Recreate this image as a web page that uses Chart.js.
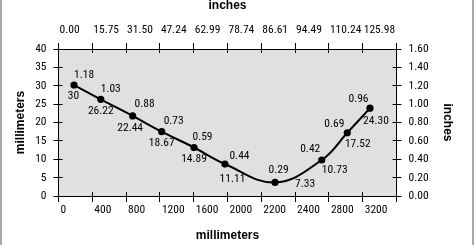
<!DOCTYPE html>
<html><head><meta charset="utf-8">
<script src="https://cdn.jsdelivr.net/npm/chart.js@4"></script>
<style>
html,body{margin:0;padding:0;background:#fff;}
#wrap{position:relative;width:475px;height:245px;overflow:hidden;}
.edge{position:absolute;top:0;width:2px;height:245px;background:#a8a8a8;}
</style></head><body>
<div id="wrap"><canvas id="c" width="475" height="245"></canvas>
<div class="edge" style="left:0"></div><div class="edge" style="left:472px"></div></div>
<script>
// data
const mmPositions = [147, 400, 702, 977, 1283, 1576, 2050, 2492, 2734, 2949];
const mmValues = [30.2, 26.3, 21.8, 17.5, 13.2, 8.7, 3.7, 9.8, 17.2, 23.9];
const mmLabels = ['30', '26.22', '22.44', '18.67', '14.89', '11.11', '7.33', '10.73', '17.52', '24.30'];
const inchLabels = ['1.18', '1.03', '0.88', '0.73', '0.59', '0.44', '0.29', '0.42', '0.69', '0.96'];
const bottomTickLabels = ['0', '400', '800', '1200', '1600', '2000', '2200', '2400', '2800', '3200'];
const topTickLabels = ['0.00', '15.75', '31.50', '47.24', '62.99', '78.74', '86.61', '94.49', '110.24', '125.98'];
const rightTickLabels = ['0.00', '0.20', '0.40', '0.60', '0.80', '1.00', '1.20', '1.40', '1.60'];

// label placement (style)
const inchOffsets = [[10,-10],[10,-10.5],[12,-12],[12,-10.5],[8.5,-10.5],[14.5,-7.5],[3.5,-12],[-11.5,-10.5],[-13,-8.5],[-11.5,-9]];
const mmOffsets = [[-0.5,11.5],[0,12],[-2.5,12.5],[0,11.5],[0,12],[7.5,15.5],[30,2],[13,10.5],[10.5,11.5],[6,13]];

const NARROW = "'Liberation Sans Narrow', 'Arial Narrow', 'Nimbus Sans Narrow', 'Roboto Condensed', 'Liberation Sans', Arial, sans-serif";
const WIDE = "'Liberation Sans', Arial, sans-serif";
Chart.defaults.font.family = NARROW;
Chart.defaults.color = '#000';

function align1(p){ return Math.round(p - 0.5) + 0.5; }

const plugin = {
  id: 'deco',
  beforeDraw(chart){
    const {ctx, chartArea:a} = chart;
    ctx.save(); ctx.fillStyle = '#e0e0e0';
    ctx.fillRect(a.left, a.top, a.right - a.left, a.bottom - a.top);
    ctx.restore();
  },
  beforeDatasetsDraw(chart){
    const {ctx, chartArea:a, scales} = chart;
    ctx.save(); ctx.strokeStyle = '#000'; ctx.lineWidth = 1; ctx.beginPath();
    const L = 4;
    scales.x.ticks.forEach(t => { const p = align1(scales.x.getPixelForValue(t.value)); ctx.moveTo(p, a.bottom); ctx.lineTo(p, a.bottom - L); });
    scales.xt.ticks.forEach(t => { const p = align1(scales.xt.getPixelForValue(t.value)); ctx.moveTo(p, a.top); ctx.lineTo(p, a.top + L); });
    scales.y.ticks.forEach(t => { const p = align1(scales.y.getPixelForValue(t.value)); ctx.moveTo(a.left, p); ctx.lineTo(a.left + L, p); });
    scales.y2.ticks.forEach(t => { const p = align1(scales.y2.getPixelForValue(t.value)); ctx.moveTo(a.right, p); ctx.lineTo(a.right - L, p); });
    ctx.stroke(); ctx.restore();
  },
  afterDatasetsDraw(chart){
    const {ctx} = chart;
    const meta = chart.getDatasetMeta(0);
    ctx.save();
    ctx.fillStyle = '#000';
    ctx.font = "condensed 11.5px " + NARROW;
    ctx.textAlign = 'center'; ctx.textBaseline = 'middle';
    meta.data.forEach((el, i) => {
      ctx.fillText(inchLabels[i], el.x + inchOffsets[i][0], el.y + inchOffsets[i][1]);
      ctx.fillText(mmLabels[i], el.x + mmOffsets[i][0], el.y + mmOffsets[i][1]);
    });
    ctx.restore();
  }
};

const tickFont = {size: 11.5, weight: 'condensed', family: NARROW};
const titleFont = {size: 12, weight: 'bold', family: WIDE};
const gridOpts = (len) => ({display: true, drawOnChartArea: false, drawTicks: true, tickLength: len, color: '#000', lineWidth: 1});
const borderOpts = {display: true, color: '#000', width: 1};

new Chart(document.getElementById('c'), {
  type: 'line',
  data: {
    datasets: [{
      data: mmPositions.map((x, i) => ({x, y: mmValues[i]})),
      borderColor: '#000', borderWidth: 2, tension: 0.4, fill: false,
      pointRadius: 3.6, pointBackgroundColor: '#000', pointBorderWidth: 0,
      xAxisID: 'x', yAxisID: 'y'
    }]
  },
  options: {
    responsive: false, animation: false,
    layout: {padding: 0, autoPadding: false},
    plugins: {legend: {display: false}, tooltip: {enabled: false}},
    scales: {
      x: {
        type: 'linear', position: 'bottom', min: 0, max: 3200,
        grid: gridOpts(6), border: borderOpts,
        ticks: {stepSize: 320, autoSkip: false, maxRotation: 0, align: 'start', labelOffset: 2, padding: 1, font: tickFont,
          callback: (v, i) => bottomTickLabels[i] ?? ''},
        title: {display: true, text: 'millimeters', font: titleFont, color: '#000', padding: {top: 0, bottom: 2}},
        afterFit(s){ s.height = 49; }
      },
      xt: {
        type: 'linear', position: 'top', min: 0, max: 3200,
        grid: gridOpts(6), border: borderOpts,
        ticks: {stepSize: 320, autoSkip: false, maxRotation: 0, align: 'start', labelOffset: 1, padding: 5.5, font: tickFont,
          callback: (v, i) => topTickLabels[i] ?? ''},
        title: {display: true, text: 'inches', font: titleFont, color: '#000', padding: {top: -2, bottom: 0}},
        afterFit(s){ s.height = 49; }
      },
      y: {
        type: 'linear', position: 'left', min: 0, max: 40,
        grid: gridOpts(5), border: borderOpts,
        ticks: {stepSize: 5, padding: 7, font: tickFont},
        title: {display: true, text: 'millimeters', font: titleFont, color: '#000', padding: {top: 13, bottom: 0}},
        afterFit(s){ s.width = 58.5; }
      },
      y2: {
        type: 'linear', position: 'right', min: 0, max: 1.6,
        grid: gridOpts(5), border: borderOpts,
        ticks: {stepSize: 0.2, padding: 7, font: tickFont,
          callback: (v, i) => rightTickLabels[i] ?? ''},
        title: {display: true, text: 'inches', font: titleFont, color: '#000', padding: {top: 20, bottom: 0}},
        afterFit(s){ s.width = 78.5; }
      }
    }
  },
  plugins: [plugin]
});
</script>
</body></html>
